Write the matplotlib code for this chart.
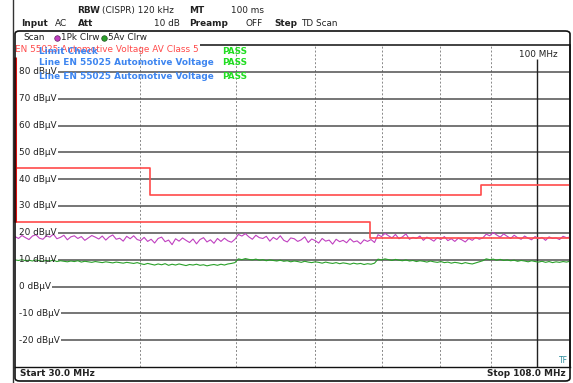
import numpy as np
import matplotlib
matplotlib.use("Agg")
import matplotlib.pyplot as plt
from matplotlib.patches import FancyBboxPatch

W, H = 573, 383

# sweep: 30 .. 108 MHz, 160 points log-spaced
f_start, f_stop = 30.0, 108.0
n_pts = 160

# 1Pk Clrw trace (dBuV)
pk_trace = [
    18.6, 17.9, 19.0, 18.2, 17.5, 18.8, 19.3, 18.0, 17.6, 18.9, 18.4, 19.5, 17.8, 18.3, 19.1, 17.4, 18.5, 18.9,
    17.9, 18.6, 17.2, 18.1, 19.0, 18.4, 17.7, 18.8, 17.3, 18.5, 19.2, 17.6, 18.0, 16.9, 18.7, 17.8, 18.9, 17.5,
    17.1, 18.3, 16.8, 17.6, 16.2, 17.9, 18.4, 16.7, 17.3, 15.6, 17.8, 16.9, 18.1, 17.2, 16.4, 17.7, 15.9, 17.5,
    18.2, 16.6, 17.4, 16.1, 17.9, 16.8, 18.0, 17.0, 16.5, 17.6,
    19.4, 18.8, 19.7, 18.5, 17.6, 19.1, 18.2, 17.9, 18.7, 16.9, 18.3, 17.5, 18.9, 17.2, 16.6, 18.1, 17.8, 16.8,
    17.4, 18.5, 16.4, 17.7, 17.1, 16.2, 17.9, 16.9, 17.3, 15.8, 17.6, 16.7, 17.2, 16.3, 17.8, 16.6, 17.0, 15.9,
    17.4, 16.8, 17.5, 16.4,
    19.3, 18.6, 19.8, 18.9, 18.1, 19.4, 17.8, 18.5, 19.6, 17.6, 18.3, 17.9, 18.8, 17.2, 18.4, 17.7, 16.9, 18.2,
    17.5, 18.6, 17.1, 17.8, 16.8, 18.0, 17.4, 16.6, 17.9, 17.2, 18.3, 17.6, 18.1,
    19.5, 18.9, 20.1, 19.2, 18.4, 19.6, 18.7, 17.9, 19.1, 18.2, 17.6, 18.8, 18.0, 17.4, 18.6, 17.8, 18.3, 17.2,
    18.5, 17.9, 18.1, 17.5, 18.7, 18.2, 18.4,
]

# 5Av Clrw trace (dBuV)
av_trace = [
    9.9, 9.7, 10.0, 9.6, 9.8, 9.5, 9.9, 9.6, 9.4, 9.7, 9.5, 9.8, 9.3, 9.6, 9.4, 9.2, 9.5, 9.3,
    9.6, 9.1, 9.4, 9.2, 9.0, 9.3, 9.1, 8.9, 9.2, 9.0, 8.8, 9.1, 8.9, 8.7, 9.0, 8.8, 8.6, 8.9,
    8.5, 8.2, 8.6, 8.3, 8.0, 8.4, 8.1, 8.5, 7.9, 8.3, 8.0, 8.4, 8.1, 7.8, 8.2, 8.0, 8.3, 7.9,
    8.1, 7.7, 8.0, 8.2, 7.9, 8.3, 8.0, 8.4, 8.6, 8.9,
    10.3, 10.0, 10.4, 10.1, 9.9, 10.2, 9.8, 10.0, 9.6, 9.9, 9.7, 9.5, 9.8, 9.4, 9.6, 9.2, 9.5, 9.3,
    9.0, 9.4, 9.1, 8.9, 9.2, 9.0, 8.7, 9.1, 8.8, 8.6, 8.9, 8.5, 8.8, 8.6, 8.3, 8.7, 8.4, 8.6,
    8.2, 8.5, 8.3, 8.7,
    10.2, 9.9, 10.3, 10.0, 9.7, 10.1, 9.8, 9.6, 9.9, 9.5, 9.7, 9.3, 9.6, 9.4, 9.1, 9.5, 9.2, 9.0,
    9.3, 8.9, 9.1, 8.7, 9.0, 8.8, 8.5, 8.9, 8.6, 8.4, 8.8, 9.2, 9.6,
    10.3, 10.0, 10.2, 9.8, 10.1, 9.7, 9.9, 9.6, 9.8, 9.4, 9.7, 9.5, 9.2, 9.6, 9.3, 9.1, 9.4, 9.0,
    9.3, 8.9, 9.2, 9.0, 9.3, 9.1, 9.4,
]

# limit lines (MHz, dBuV), stepped
lim1_f = [30, 41, 41, 88, 88, 108]
lim1_v = [44, 44, 34, 34, 38, 38]
lim2_f = [30, 68, 68, 108]
lim2_v = [24, 24, 18, 18]

grid_levels = [80, 70, 60, 50, 40, 30, 20, 10, 0, -10, -20]
vgrid_mhz = [40, 50, 60, 70, 80, 90]
marker_mhz = 100

RED = "#ff4a4a"
BLUE = "#3d85f0"
PASSGREEN = "#22dd22"
MAGENTA = "#c040c0"
GREEN = "#2aa02a"
GRID = "#505050"
FS = 6.4


def fx(px):
    return px / W


def fy(py):
    return 1 - py / H


fig = plt.figure(figsize=(W / 100, H / 100), dpi=100)
fig.patch.set_facecolor("white")

# header rows
hdr = [
    (77, 10.5, "RBW", "bold", "left"), (102, 10.5, "(CISPR) 120 kHz", "normal", "left"),
    (189, 10.5, "MT", "bold", "left"), (264, 10.5, "100 ms", "normal", "right"),
    (21, 24, "Input", "bold", "left"), (55, 24, "AC", "normal", "left"),
    (78, 24, "Att", "bold", "left"), (180, 24, "10 dB", "normal", "right"),
    (189, 24, "Preamp", "bold", "left"), (263, 24, "OFF", "normal", "right"),
    (274, 24, "Step", "bold", "left"), (301, 24, "TD Scan", "normal", "left"),
]
for x, y, s, w, ha in hdr:
    fig.text(fx(x), fy(y), s, fontsize=FS, fontweight=w, ha=ha, va="center", color="#222222")

# outer frame
fig.add_artist(plt.Line2D([fx(13), fx(13)], [0, 1], color="#333333", lw=1.0))
frame = FancyBboxPatch((fx(15), fy(381)), fx(570) - fx(15), fy(31) - fy(381),
                       boxstyle="round,pad=0,rounding_size=0.008", transform=fig.transFigure,
                       fill=False, ec="#111111", lw=1.2)
fig.add_artist(frame)

# scan row
fig.text(fx(23), fy(38), "Scan", fontsize=FS, ha="left", va="center", color="#222222")
fig.add_artist(plt.Line2D([fx(57)], [fy(38)], marker="o", ms=4, color=MAGENTA, mec="#602060", mew=0.5))
fig.text(fx(61), fy(38), "1Pk Clrw", fontsize=FS, ha="left", va="center", color="#222222")
fig.add_artist(plt.Line2D([fx(104)], [fy(38)], marker="o", ms=4, color=GREEN, mec="#205020", mew=0.5))
fig.text(fx(108), fy(38), "5Av Clrw", fontsize=FS, ha="left", va="center", color="#222222")

# bottom row
fig.add_artist(plt.Line2D([fx(15), fx(570)], [fy(367), fy(367)], color="#111111", lw=1.0))
fig.text(fx(20), fy(374), "Start 30.0 MHz", fontsize=FS, fontweight="bold", ha="left", va="center", color="#222222")
fig.text(fx(566), fy(374), "Stop 108.0 MHz", fontsize=FS, fontweight="bold", ha="right", va="center", color="#222222")

# diagram
ax = fig.add_axes([fx(15), fy(367), fx(570) - fx(15), fy(45) - fy(367)])
ax.set_xscale("log")
ax.set_xlim(f_start, f_stop)
ax.set_ylim(-30, 90)
ax.set_xticks([])
ax.set_yticks([])
ax.minorticks_off()
for s in ["top", "bottom", "left"]:
    ax.spines[s].set_visible(False)
ax.spines["right"].set_color("#222222")
ax.spines["right"].set_linewidth(1.2)
ax.patch.set_alpha(0)

freq = np.geomspace(f_start, f_stop, n_pts)

for f in vgrid_mhz:
    ax.axvline(f, color="#888888", lw=0.7, ls=(0, (2, 2)), zorder=1)

labels = []
for lv in grid_levels:
    t = ax.text(0.008, lv, f"{lv} dBµV", transform=ax.get_yaxis_transform(),
                fontsize=FS, ha="left", va="center", color="#222222", zorder=5)
    labels.append((lv, t))

title = ax.text(0.0, 88.2, "EN 55025 Automotive Voltage AV Class 5", transform=ax.get_yaxis_transform(),
                fontsize=FS, ha="left", va="center", color=RED, zorder=6)
ax.text(0.044, 87.6, "Limit Check", transform=ax.get_yaxis_transform(),
        fontsize=FS, fontweight="bold", ha="left", va="center", color=BLUE, zorder=6)
ax.text(0.044, 83.3, "Line EN 55025 Automotive Voltage", transform=ax.get_yaxis_transform(),
        fontsize=FS, fontweight="bold", ha="left", va="center", color=BLUE, zorder=6)
ax.text(0.044, 78.3, "Line EN 55025 Automotive Voltage", transform=ax.get_yaxis_transform(),
        fontsize=FS, fontweight="bold", ha="left", va="center", color=BLUE, zorder=6)
for yv in (87.6, 83.3, 78.3):
    ax.text(0.374, yv, "PASS", transform=ax.get_yaxis_transform(),
            fontsize=FS, fontweight="bold", ha="left", va="center", color=PASSGREEN, zorder=6)

# grid lines start right after their labels
fig.canvas.draw()
inv = ax.transAxes.inverted()
for lv, t in labels:
    bb = t.get_window_extent()
    x0 = inv.transform((bb.x1 + 1, 0))[0]
    ax.hlines(lv, x0, 1, transform=ax.get_yaxis_transform(), color=GRID, lw=1.1, zorder=2)
bb = title.get_window_extent()
x0 = inv.transform((bb.x1 + 1, 0))[0]
ax.hlines(90, x0, 1, transform=ax.get_yaxis_transform(), color="#222222", lw=1.2, zorder=2, clip_on=False)

# marker line
ax.vlines(marker_mhz, -30, 84.8, color="#222222", lw=1.0, zorder=3)
ax.text(marker_mhz + 0.3, 86.5, "100 MHz", fontsize=FS, ha="center", va="center", color="#222222")

# limit lines
ax.plot(lim1_f, lim1_v, color=RED, lw=1.2, zorder=4)
ax.plot(lim2_f, lim2_v, color=RED, lw=1.2, zorder=4)
ax.vlines(30, 24, 85.5, color="#dd1010", lw=2.2, zorder=4, clip_on=False)

# traces
ax.plot(freq, pk_trace, color=MAGENTA, lw=0.8, zorder=3)
ax.plot(freq, av_trace, color=GREEN, lw=0.8, zorder=3)

ax.text(0.997, -27.5, "TF", transform=ax.get_yaxis_transform(), fontsize=5.5,
        ha="right", va="center", color="#2a8a9a")

fig.savefig("out.png", dpi=100)
